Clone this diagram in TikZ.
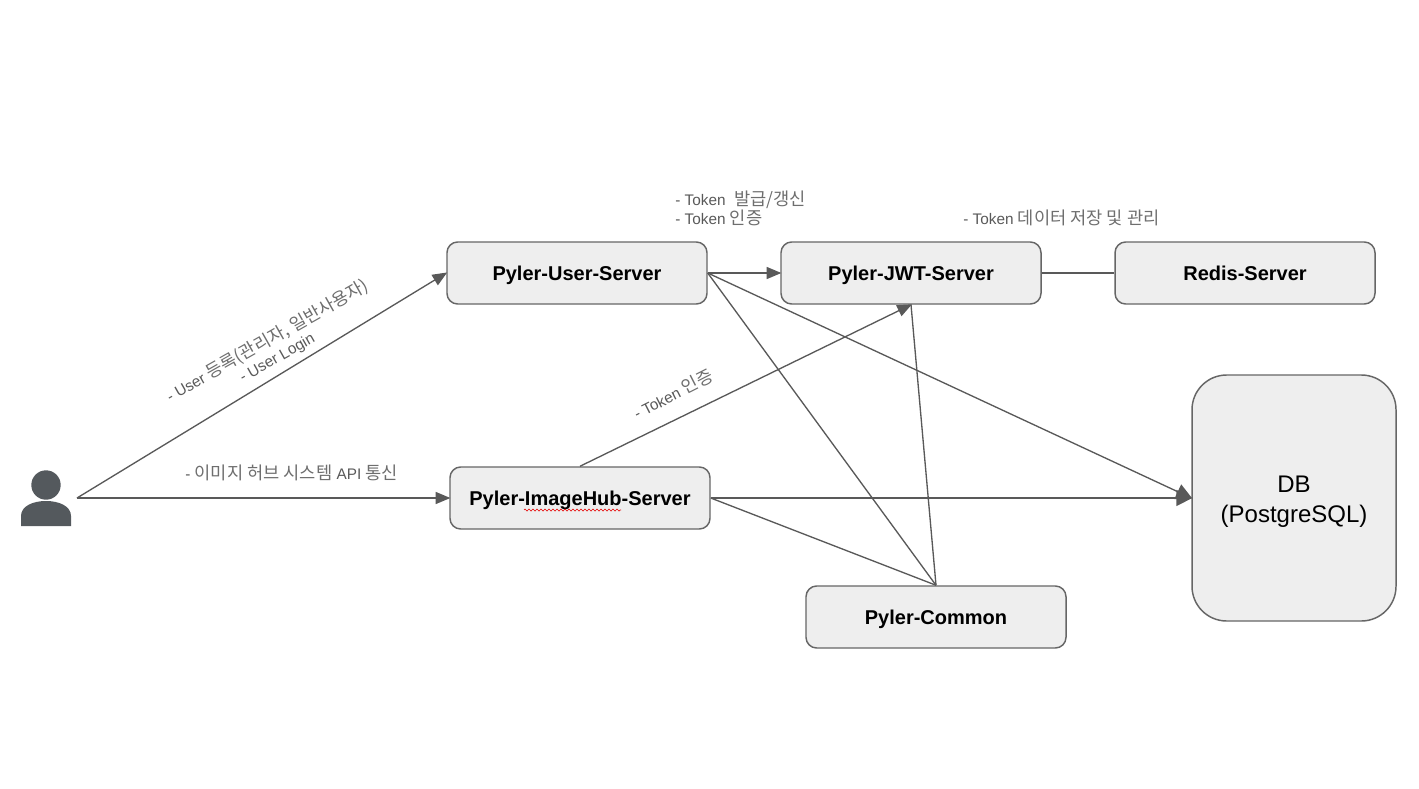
\documentclass[tikz,border=0pt]{standalone}
\usepackage{fontspec}
\setmainfont{Liberation Sans}
\newfontfamily\krfont[Scale=1.15]{Noto Sans CJK KR}
\definecolor{krc}{HTML}{6E6E6E}
\newcommand{\kr}[1]{{\krfont\color{krc} #1}}
\usetikzlibrary{arrows.meta,decorations.pathmorphing}
\definecolor{linec}{HTML}{595959}
\definecolor{boxline}{HTML}{666666}
\definecolor{boxfill}{HTML}{EEEEEE}
\definecolor{personc}{HTML}{54595D}
\tikzset{
  srv/.style={draw=boxline,fill=boxfill,line width=1.1pt,rounded corners=8pt,minimum width=195pt,minimum height=46.5pt,inner sep=0pt,text height=10.8pt,text depth=0pt,font=\fontsize{15}{18}\selectfont\bfseries,text=black},
  dbbox/.style={draw=boxline,fill=boxfill,line width=1.1pt,rounded corners=26pt,minimum width=153pt,minimum height=184.5pt,inner sep=0pt,font=\fontsize{18}{22.5}\selectfont,text=black,align=center},
  lbl/.style={inner sep=0pt,text=linec,font=\fontsize{11.5}{14.25}\selectfont},
  conn/.style={draw=linec,line width=1pt},
  arr/.style={conn,shorten >=-0.8pt,-{Triangle[length=11pt,width=9pt]}},
  bigarr/.style={conn,shorten >=-0.8pt,-{Triangle[length=12pt,width=12pt]}}
}
\begin{document}
\begin{tikzpicture}[x=0.75pt,y=-0.75pt]
\useasboundingbox (0,0) rectangle (1419,788);
% person icon
\fill[personc] (46,485) circle [radius=14.7];
\fill[personc] (21,526) -- (21,516) .. controls (21,506) and (33,501) .. (46,501) .. controls (59,501) and (71,506) .. (71,516) -- (71,526) -- cycle;
\coordinate (person) at (77,498);
% boxes
\node[srv] (user) at (577,273) {Pyler-User-Server};
\node[srv] (jwt) at (911,273) {Pyler-JWT-Server};
\node[srv] (redis) at (1245,273) {Redis-Server};
\node[srv] (hub) at (580,498) {Pyler-ImageHub-Server};
\node[srv] (common) at (936,617) {Pyler-Common};
\node[dbbox] (db) at (1294,498) {\rule{0pt}{17.6pt}DB\\(PostgreSQL)};
% connectors
\draw[arr] (person) -- (user.west);
\draw[arr] (person) -- (hub.west);
\draw[arr] (user.east) -- (jwt.west);
\draw[conn] (jwt.east) -- (redis.west);
\draw[arr] (hub.north) -- (jwt.south);
\draw[bigarr] (user.east) -- (db.west);
\draw[bigarr] (hub.east) -- (db.west);
\draw[conn] (user.east) -- (common.north);
\draw[conn] (hub.east) -- (common.north);
\draw[conn] (jwt.south) -- (common.north);
% spell-check squiggle
\coordinate (sqa) at (524,510);
\coordinate (sqb) at (621,510);
\draw[red!90!black,line width=0.45pt,decorate,decoration={zigzag,segment length=3pt,amplitude=0.8pt}] (sqa) -- (sqb);
% labels
\node[lbl,rotate=29.5,align=center] (l1) at (272,349) {- User \kr{등록(관리자, 일반사용자)}\\- User Login};
\node[lbl,anchor=west] (l2) at (185,473) {- \kr{이미지 허브 시스템} API \kr{통신}};
\node[lbl,rotate=27,anchor=center] (l3) at (673,394) {- Token \kr{인증}};
\node[lbl,anchor=west,align=left] (l4) at (675,208.5) {- Token\ \ \kr{발급/갱신}\\- Token \kr{인증}};
\node[lbl,anchor=west] (l5) at (963,218) {- Token \kr{데이터 저장 및 관리}};
\end{tikzpicture}
\end{document}
